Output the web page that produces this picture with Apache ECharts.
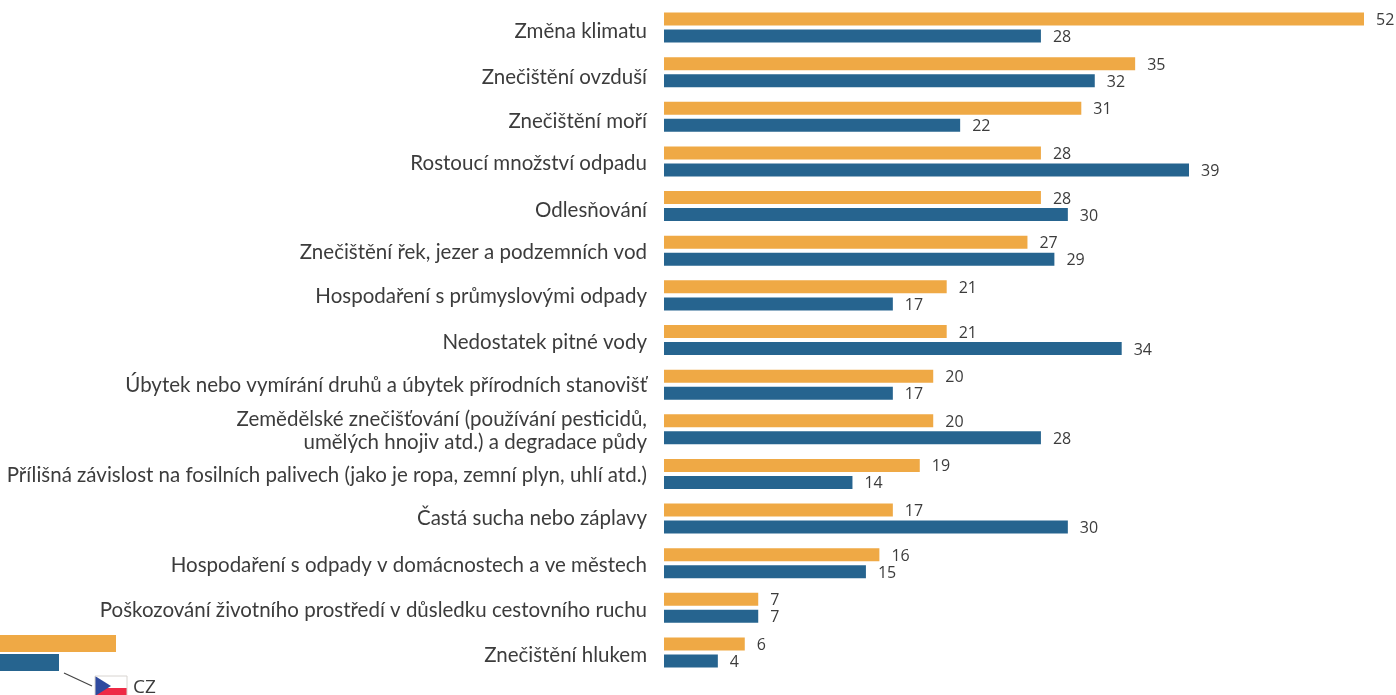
<!DOCTYPE html>
<html><head><meta charset="utf-8">
<style>html,body{margin:0;padding:0;background:#fff;overflow:hidden}#c{width:1396px;height:695px}</style>
<script src="https://cdn.jsdelivr.net/npm/echarts@6/dist/echarts.min.js"></script>
</head><body><div id="c"></div>
<script>
const categories = ["Změna klimatu","Znečištění ovzduší","Znečištění moří","Rostoucí množství odpadu","Odlesňování","Znečištění řek, jezer a podzemních vod","Hospodaření s průmyslovými odpady","Nedostatek pitné vody","Úbytek nebo vymírání druhů a úbytek přírodních stanovišť","Zemědělské znečišťování (používání pesticidů,\numělých hnojiv atd.) a degradace půdy","Přílišná závislost na fosilních palivech (jako je ropa, zemní plyn, uhlí atd.)","Častá sucha nebo záplavy","Hospodaření s odpady v domácnostech a ve městech","Poškozování životního prostředí v důsledku cestovního ruchu","Znečištění hlukem"];
const orangeValues = [52,35,31,28,28,27,21,21,20,20,19,17,16,7,6];
const blueValues = [28,32,22,39,30,29,17,34,17,28,14,30,15,7,4];
const labelNudge = [4,5,5,2,4,2,1,2,1,3,1,0,2,3,3];
const ORANGE="#efa945", BLUE="#26648f", TXT="#3c3c3c", FONT="Lato,sans-serif";
const FS=20.5, LH=25;
const rich={};
labelNudge.forEach(n=>{rich['n'+n]={padding:[n*2,0,0,0],fontFamily:FONT,fontSize:FS,color:TXT,lineHeight:LH,align:'right'};});
rich.plain={padding:[2,0,0,0],fontFamily:FONT,fontSize:FS,color:TXT,lineHeight:LH,align:'right'};
const chart = echarts.init(document.getElementById('c'),null,{renderer:'canvas'});
const lab={show:true,position:'right',distance:12,offset:[0,1.5],color:TXT,fontFamily:"'Open Sans',sans-serif",fontSize:16};
chart.setOption({
 animation:false,
 grid:{left:664,top:5.2,width:700,height:669.6,containLabel:false,outerBoundsMode:'none'},
 xAxis:{type:'value',min:0,max:52,show:false},
 yAxis:{type:'category',inverse:true,data:categories,axisLine:{show:false},axisTick:{show:false},
  axisLabel:{color:TXT,fontFamily:FONT,fontSize:FS,margin:17,align:'right',lineHeight:LH,interval:0,rich,
   formatter:(v,i)=>{const p=v.split('\n');return p.map((s,k)=>k===0?`{n${labelNudge[i]}|${s}}`:`{plain|${s}}`).join('\n');}}},
 series:[
  {type:'bar',data:orangeValues,barWidth:13,barGap:'31%',itemStyle:{color:ORANGE},label:lab},
  {type:'bar',data:blueValues,barWidth:13,barGap:'31%',itemStyle:{color:BLUE},label:lab}
 ],
 graphic:[
  {type:'rect',shape:{x:0,y:635,width:116,height:17},style:{fill:ORANGE}},
  {type:'rect',shape:{x:0,y:654,width:59,height:17},style:{fill:BLUE}},
  {type:'line',shape:{x1:64,y1:673,x2:92,y2:686},style:{stroke:'#444',lineWidth:1.2}},
  {type:'rect',shape:{x:95,y:676,width:32,height:12},style:{fill:'#fff'}},
  {type:'rect',shape:{x:95,y:688,width:32,height:8},style:{fill:'#ee2a45'}},
  {type:'polygon',shape:{points:[[95,676],[111,686],[95,696]]},style:{fill:'#2f4a9f'}},
  {type:'rect',shape:{x:95,y:676,width:32,height:24},style:{fill:'none',stroke:'#d8d4d0',lineWidth:1}},
  {type:'text',x:133,y:678,style:{text:'CZ',fill:TXT,font:"19px 'Open Sans',sans-serif"}}
 ]
});
</script></body></html>
